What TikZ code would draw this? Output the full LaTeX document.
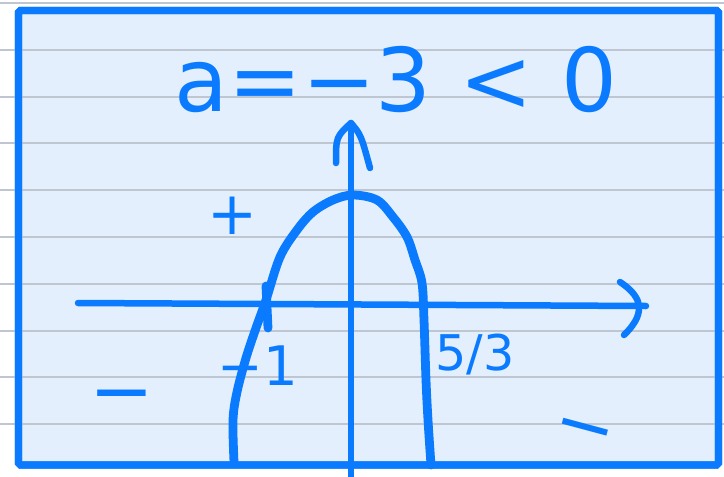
\documentclass[tikz,border=0pt]{standalone}
\usepackage{fontspec}
\setmainfont{DejaVu Sans}
\usepackage{xcolor}
\usepackage{tikz}
\usetikzlibrary{arrows.meta,positioning,calc}
\definecolor{penblue}{RGB}{10,122,255}
\definecolor{paperblue}{RGB}{227,239,253}
\definecolor{rulegray}{RGB}{190,199,209}
\tikzset{
  ruleline/.style={draw=rulegray,line width=1.1pt},
  paperframe/.style={draw=penblue,fill=paperblue,line width=4pt,rounded corners=1pt},
  axisline/.style={draw=penblue,line width=3.7pt,line cap=round,line join=round},
  penstroke/.style={draw=penblue,line width=5pt,line cap=round,line join=round},
  pentext/.style={text=penblue,inner sep=0pt,font=\fontsize{#1}{#1}\selectfont},
  pentext/.default=30
}

\begin{document}
\begin{tikzpicture}[x=0.02cm,y=-0.02cm]
  \useasboundingbox (0,0) rectangle (724,477);
  % notebook page
  \draw[paperframe] (18.5,10.5) rectangle (718.5,465);
  \foreach \k in {0,...,9}
    \draw[ruleline] (0,3+46.8*\k) -- (724,3+46.8*\k);
  \draw[draw=penblue,line width=4pt,rounded corners=1pt] (18.5,10.5) rectangle (718.5,465);

  % axes
  \coordinate (xaxleft) at (78,303);
  \coordinate (xaxright) at (646,306);
  \coordinate (yaxbot) at (351,477);
  \coordinate (yaxtop) at (351,123);
  \draw[axisline] (xaxleft) -- (xaxright);
  \draw[axisline] ($(xaxright)+(-26,-24)$)
    .. controls ($(xaxright)+(-8,-12)$) and ($(xaxright)+(4,4)$) .. ($(xaxright)+(-22,29)$);
  \draw[axisline] (yaxbot) -- (yaxtop);
  \draw[axisline] ($(yaxtop)+(-15,40)$)
    .. controls ($(yaxtop)+(-15,14)$) .. (yaxtop)
    .. controls ($(yaxtop)+(10,12)$) .. ($(yaxtop)+(19,45)$);

  % parabola
  \draw[penstroke] plot[smooth,tension=0.55] coordinates {
    (234,462) (233,420) (237,392) (246,358) (256,328) (266,300) (280,257)
    (297,230) (313,212) (333,200) (353,195) (377,200) (393,217) (407,237)
    (415,260) (422,283) (424,320) (426,380) (428,420) (431,465)};
  \draw[penstroke] (266,286) -- (268,328);

  % labels
  \node[pentext=50] (title) at (396,80) {a=−3 < 0};
  \node[pentext=34] (plus) at (233,216) {+};
  \node[pentext=31] (rootleft) at (258,366) {−1};
  \node[pentext=28] (rootright) at (475,355) {5/3};
  \node[pentext=44] (negleft) at (122,404) {−};
  \node[pentext=42,rotate=-15] (negright) at (583,437) {−};
\end{tikzpicture}
\end{document}
